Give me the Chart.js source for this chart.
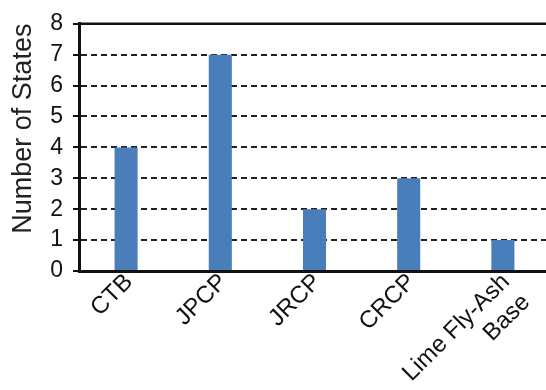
<!DOCTYPE html>
<html>
<head>
<meta charset="utf-8">
<script src="https://cdn.jsdelivr.net/npm/chart.js@4"></script>
<style>
  html, body { margin: 0; padding: 0; background: #fff; overflow: hidden; }
  #wrap { width: 552px; height: 390px; }
</style>
</head>
<body>
<div id="wrap"><canvas id="statesChart" width="552" height="390"></canvas></div>
<script>
const categories = ['CTB', 'JPCP', 'JRCP', 'CRCP', ['Lime Fly-Ash', 'Base']];
const stateCounts = [4, 7, 2, 3, 1];
const yTicks = [0, 1, 2, 3, 4, 5, 6, 7, 8];

const fontFamily = '"Liberation Sans", Arial, sans-serif';

// solid line across the top of the plot
const topFrame = {
    id: 'topFrame',
    afterDraw(chart) {
        const { ctx, chartArea } = chart;
        ctx.save();
        ctx.strokeStyle = '#111';
        ctx.lineWidth = 2.5;
        ctx.beginPath();
        ctx.moveTo(chartArea.left, chartArea.top);
        ctx.lineTo(chartArea.right + 4, chartArea.top);
        ctx.stroke();
        ctx.restore();
    }
};

const ctx = document.getElementById('statesChart').getContext('2d');
const statesChart = new Chart(ctx, {
    type: 'bar',
    data: {
        labels: categories,
        datasets: [{
            label: 'Number of States',
            data: stateCounts,
            backgroundColor: '#4a7ebb',
            borderWidth: 0,
            categoryPercentage: 1,
            barPercentage: 0.245
        }]
    },
    options: {
        responsive: false,
        animation: false,
        plugins: {
            legend: { display: false },
            tooltip: { enabled: false }
        },
        layout: {
            padding: { top: 19, right: 2, left: 0, bottom: 0 }
        },
        scales: {
            x: {
                grid: { display: false },
                border: { display: true, color: '#111', width: 3 },
                ticks: {
                    color: '#111',
                    font: { family: fontFamily, size: 24 },
                    maxRotation: 45,
                    minRotation: 45,
                    padding: -11,
                    labelOffset: 3
                },
                afterFit(scale) {
                    scale.height = 119;
                }
            },
            y: {
                min: 0,
                max: 8,
                afterBuildTicks(scale) {
                    scale.ticks = yTicks.map(v => ({ value: v }));
                },
                grid: {
                    color: '#222',
                    lineWidth: 2,
                    tickLength: 6,
                    tickColor: '#111',
                    tickWidth: 2
                },
                border: { display: true, color: '#111', width: 3, dash: [6, 4] },
                ticks: {
                    color: '#111',
                    font: { family: fontFamily, size: 23 },
                    padding: 10
                },
                title: {
                    display: true,
                    text: '     Number of States',
                    color: '#222',
                    font: { family: fontFamily, size: 27 },
                    padding: { top: 7, bottom: 0 }
                },
                afterFit(scale) {
                    scale.width = 79;
                }
            }
        }
    },
    plugins: [topFrame]
});
</script>
</body>
</html>
